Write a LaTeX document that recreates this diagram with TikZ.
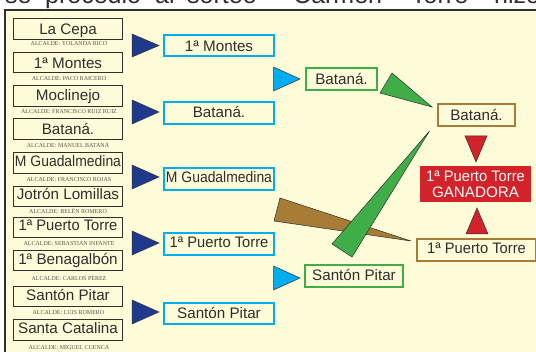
\documentclass[tikz,border=0pt]{standalone}
\usepackage{graphicx}
\usepackage{fontspec}
\setmainfont{Liberation Sans}
\newfontfamily\capfont{Liberation Serif}
\newcommand{\tightG}{\scalebox{0.916}[1]{M Guadalmedina}}
\newcommand{\tightP}{\scalebox{0.968}[1]{1ª Puerto Torre}}
\definecolor{paper}{HTML}{FEFBD8}
\definecolor{ink}{HTML}{2E2E2E}
\definecolor{capink}{HTML}{555555}
\definecolor{navy}{HTML}{1F3A8C}
\definecolor{sky}{HTML}{00AEEF}
\definecolor{leaf}{HTML}{3FAE49}
\definecolor{bronze}{HTML}{A67C37}
\definecolor{crimson}{HTML}{D2232A}
\tikzset{
  x=1pt,y=-1pt,
  teambox/.style={draw,inner sep=0pt,outer sep=0pt,text=ink,font=\fontsize{15.2}{16}\selectfont,text depth=0pt},
  seedbox/.style={teambox,draw=ink,line width=0.9pt,minimum width=109pt,minimum height=20.5pt},
  roundbox/.style={teambox,draw=sky,line width=1.7pt,minimum width=110pt,minimum height=21.5pt},
  semibox/.style={teambox,draw=leaf,line width=1.4pt,minimum height=22pt},
  finalbox/.style={teambox,draw=bronze,line width=1.4pt,minimum height=22pt},
  mayor/.style={inner sep=0pt,text=capink,font=\capfont\fontsize{6}{7}\selectfont},
  headword/.style={anchor=base west,inner sep=0pt,text=ink,font=\fontsize{25}{28}\selectfont},
  wedge/.style={draw=ink,line width=0.5pt,line join=miter},
}
\begin{document}
\begin{tikzpicture}
\clip (0,0) rectangle (536,352);
\fill[white] (0,0) rectangle (536,352);
\fill[paper] (5,10) rectangle (536,352);
\draw[ink,line width=1.8pt] (5,352) -- (5,10) -- (536,10);
% heading, cut off by the frame of the crop
\node[headword] (h1) at (5,3.5) {se};
\node[headword] (h2) at (45,3.5) {procedió};
\node[headword] (h3) at (155,3.5) {al};
\node[headword] (h4) at (187,3.5) {sorteo};
\node[headword] (h5) at (293,3.5) {Carmen};
\node[headword] (h6) at (411,3.5) {Torre};
\node[headword] (h7) at (494,3.5) {hizo};
% entrants
\node[seedbox,text height=12pt] (s1) at (68,28.75) {La Cepa};
\node[seedbox,text height=12pt] (s2) at (68,62.25) {1ª Montes};
\node[seedbox,text height=9pt] (s3) at (68,95.75) {Moclinejo};
\node[seedbox,text height=12pt] (s4) at (68,129) {Bataná.};
\node[seedbox,text height=7pt] (s5) at (68,162.75) {\tightG};
\node[seedbox,text height=7pt] (s6) at (68,196.5) {Jotrón Lomillas};
\node[seedbox,text height=7pt] (s7) at (68,227.5) {\tightP};
\node[seedbox,text height=9pt] (s8) at (68,260.5) {1ª Benagalbón};
\node[seedbox,text height=9pt] (s9) at (68,296.5) {Santón Pitar};
\node[seedbox,text height=8pt] (s10) at (68,330) {Santa Catalina};
% mayors
\node[mayor] (m1) at (69,44) {ALCALDE: YOLANDA RICO};
\node[mayor] (m2) at (69,79) {ALCALDE: PACO RAICERO};
\node[mayor] (m3) at (69,112) {ALCALDE: FRANCISCO RUIZ RUIZ};
\node[mayor] (m4) at (68,145) {ALCALDE: MANUEL BATANÁ};
\node[mayor] (m5) at (69,180) {ALCALDE: FRANCISCO ROJAS};
\node[mayor] (m6) at (68,211) {ALCALDE: BELÉN ROMERO};
\node[mayor] (m7) at (69,244) {ALCALDE: SEBASTIAN INFANTE};
\node[mayor] (m8) at (69,278) {ALCALDE: CARLOS PÉREZ};
\node[mayor] (m9) at (68.5,313) {ALCALDE: LUIS ROMERO};
\node[mayor] (m10) at (69,348) {ALCALDE: MIGUEL CUENCA};
% first round winners
\node[roundbox,text height=13pt] (r1) at (219,45.5) {1ª Montes};
\node[roundbox,text height=10pt] (r2) at (219,113) {Bataná.};
\node[roundbox,text height=8pt] (r3) at (219,179) {\tightG};
\node[roundbox,text height=8pt] (r4) at (219,244) {\tightP};
\node[roundbox,text height=11pt] (r5) at (219,313.5) {Santón Pitar};
% semi-finalists
\node[semibox,minimum width=71pt,text height=12pt] (g1) at (341.5,79) {Bataná.};
\node[semibox,minimum width=98pt,text height=10pt] (g2) at (354,276) {Santón Pitar};
% finalists
\node[finalbox,minimum width=77pt,text height=12pt] (f1) at (476.5,115) {Bataná.};
\node[finalbox,minimum width=119pt,text height=8pt] (f2) at (476.5,250) {\tightP};
% champion
\node[fill=crimson,text=white,inner sep=0pt,minimum width=111pt,minimum height=36pt,align=center,font=\fontsize{15.2}{16}\selectfont] (w) at (475.5,184) {\tightP\\GANADORA};
% first round arrows
\draw[wedge,fill=navy] (132,34) -- (132,57) -- (159,45.5) -- cycle;
\draw[wedge,fill=navy] (132,100) -- (132,124) -- (159,112) -- cycle;
\draw[wedge,fill=navy] (132,165) -- (132,189) -- (159,177) -- cycle;
\draw[wedge,fill=navy] (132,231) -- (132,255) -- (159,243) -- cycle;
\draw[wedge,fill=navy] (132,300) -- (132,324) -- (159,312) -- cycle;
% second round arrows
\draw[wedge,fill=sky] (273.5,67) -- (273.5,91) -- (300,79) -- cycle;
\draw[wedge,fill=sky] (273.5,266) -- (273.5,290) -- (300,278) -- cycle;
% semi-final arrows
\draw[wedge,fill=bronze] (280,198) -- (274,221) -- (411,241) -- cycle;
\draw[wedge,fill=leaf] (392,73) -- (380,93) -- (432,107) -- cycle;
\draw[wedge,fill=leaf] (332,244) -- (352,257) -- (429.5,131) -- cycle;
% final arrows
\draw[wedge,fill=crimson] (465,136) -- (487,136) -- (476,162) -- cycle;
\draw[wedge,fill=crimson] (466,234) -- (488,234) -- (477,208) -- cycle;
\end{tikzpicture}
\end{document}
